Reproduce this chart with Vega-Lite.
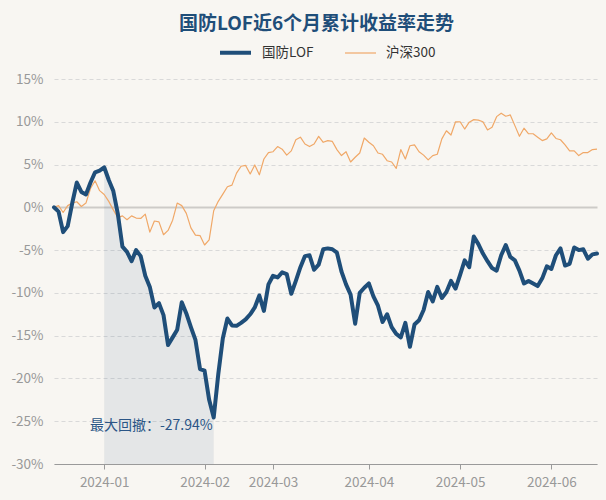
{
  "$schema": "https://vega.github.io/schema/vega-lite/v6.json",
  "width": 543,
  "height": 385,
  "autosize": {"type": "none"},
  "padding": {"left": 54, "top": 79, "right": 9, "bottom": 36},
  "background": "#f8f6f2",
  "title": {
    "text": "国防LOF近6个月累计收益率走势",
    "font": "Noto Sans CJK SC",
    "fontSize": 19,
    "fontWeight": "bold",
    "color": "#1f4e79",
    "anchor": "middle",
    "dx": -9,
    "offset": 1
  },
  "config": {
    "view": {"stroke": null},
    "font": "Noto Sans CJK SC"
  },
  "data": {
    "values": [
      {"d": "2023-12-15", "国防LOF": 0, "沪深300": 0},
      {"d": "2023-12-18", "国防LOF": -0.5, "沪深300": 0.2},
      {"d": "2023-12-19", "国防LOF": -2.9, "沪深300": -0.6},
      {"d": "2023-12-20", "国防LOF": -2.2, "沪深300": 0.2},
      {"d": "2023-12-21", "国防LOF": 0.5, "沪深300": 0.5},
      {"d": "2023-12-22", "国防LOF": 2.9, "沪深300": 0.65},
      {"d": "2023-12-25", "国防LOF": 1.8, "沪深300": 0.1},
      {"d": "2023-12-26", "国防LOF": 1.5, "沪深300": 0.5},
      {"d": "2023-12-27", "国防LOF": 2.9, "沪深300": 2.2},
      {"d": "2023-12-28", "国防LOF": 4.1, "沪深300": 3.1},
      {"d": "2023-12-29", "国防LOF": 4.3, "沪深300": 1.95},
      {"d": "2024-01-02", "国防LOF": 4.68, "沪深300": 1.5},
      {"d": "2024-01-03", "国防LOF": 3.2, "沪深300": 0.7},
      {"d": "2024-01-04", "国防LOF": 1.9, "沪深300": -0.3},
      {"d": "2024-01-05", "国防LOF": -0.8, "沪深300": -1.2},
      {"d": "2024-01-08", "国防LOF": -4.6, "沪深300": -1.0},
      {"d": "2024-01-09", "国防LOF": -5.2, "沪深300": -1.45},
      {"d": "2024-01-10", "国防LOF": -6.3, "沪深300": -1.0},
      {"d": "2024-01-11", "国防LOF": -5.0, "沪深300": -1.25},
      {"d": "2024-01-12", "国防LOF": -5.7, "沪深300": -1.3},
      {"d": "2024-01-15", "国防LOF": -8.0, "沪深300": -0.8},
      {"d": "2024-01-16", "国防LOF": -9.3, "沪深300": -2.9},
      {"d": "2024-01-17", "国防LOF": -11.7, "沪深300": -1.6},
      {"d": "2024-01-18", "国防LOF": -11.2, "沪深300": -1.7},
      {"d": "2024-01-19", "国防LOF": -12.6, "沪深300": -3.2},
      {"d": "2024-01-22", "国防LOF": -16.1, "沪深300": -2.7},
      {"d": "2024-01-23", "国防LOF": -15.2, "沪深300": -1.5},
      {"d": "2024-01-24", "国防LOF": -14.3, "沪深300": 0.5},
      {"d": "2024-01-25", "国防LOF": -11.1, "沪深300": 0.2},
      {"d": "2024-01-26", "国防LOF": -12.4, "沪深300": -0.7},
      {"d": "2024-01-29", "国防LOF": -14.0, "沪深300": -2.4},
      {"d": "2024-01-30", "国防LOF": -15.5, "沪深300": -3.25},
      {"d": "2024-01-31", "国防LOF": -18.9, "沪深300": -3.3},
      {"d": "2024-02-01", "国防LOF": -19.1, "沪深300": -4.4},
      {"d": "2024-02-02", "国防LOF": -22.5, "沪深300": -3.8},
      {"d": "2024-02-05", "国防LOF": -24.57, "沪深300": -0.4},
      {"d": "2024-02-06", "国防LOF": -19.5, "沪深300": 0.7},
      {"d": "2024-02-07", "国防LOF": -15.3, "沪深300": 1.55},
      {"d": "2024-02-08", "国防LOF": -13.0, "沪深300": 2.4},
      {"d": "2024-02-19", "国防LOF": -13.8, "沪深300": 2.6},
      {"d": "2024-02-20", "国防LOF": -13.85, "沪深300": 4.0},
      {"d": "2024-02-21", "国防LOF": -13.5, "沪深300": 4.8},
      {"d": "2024-02-22", "国防LOF": -13.1, "沪深300": 4.9},
      {"d": "2024-02-23", "国防LOF": -12.5, "沪深300": 3.9},
      {"d": "2024-02-26", "国防LOF": -11.7, "沪深300": 4.95},
      {"d": "2024-02-27", "国防LOF": -10.3, "沪深300": 3.8},
      {"d": "2024-02-28", "国防LOF": -12.1, "沪深300": 5.65},
      {"d": "2024-02-29", "国防LOF": -9.0, "沪深300": 6.4},
      {"d": "2024-03-01", "国防LOF": -8.0, "沪深300": 6.5},
      {"d": "2024-03-04", "国防LOF": -8.2, "沪深300": 7.1},
      {"d": "2024-03-05", "国防LOF": -7.6, "沪深300": 6.8},
      {"d": "2024-03-06", "国防LOF": -7.8, "沪深300": 6.1},
      {"d": "2024-03-07", "国防LOF": -10.1, "沪深300": 6.6},
      {"d": "2024-03-08", "国防LOF": -8.6, "沪深300": 7.9},
      {"d": "2024-03-11", "国防LOF": -7.0, "沪深300": 8.2},
      {"d": "2024-03-12", "国防LOF": -5.7, "沪深300": 7.4},
      {"d": "2024-03-13", "国防LOF": -5.6, "沪深300": 7.1},
      {"d": "2024-03-14", "国防LOF": -7.3, "沪深300": 7.4},
      {"d": "2024-03-15", "国防LOF": -6.7, "沪深300": 8.3},
      {"d": "2024-03-18", "国防LOF": -4.9, "沪深300": 7.6},
      {"d": "2024-03-19", "国防LOF": -4.8, "沪深300": 7.8},
      {"d": "2024-03-20", "国防LOF": -4.9, "沪深300": 7.7},
      {"d": "2024-03-21", "国防LOF": -5.3, "沪深300": 6.75},
      {"d": "2024-03-22", "国防LOF": -7.5, "沪深300": 6.05},
      {"d": "2024-03-25", "国防LOF": -9.0, "沪深300": 6.5},
      {"d": "2024-03-26", "国防LOF": -10.2, "沪深300": 5.3},
      {"d": "2024-03-27", "国防LOF": -13.6, "沪深300": 5.85},
      {"d": "2024-03-28", "国防LOF": -10.0, "沪深300": 6.35},
      {"d": "2024-03-29", "国防LOF": -9.4, "沪深300": 8.1},
      {"d": "2024-04-01", "国防LOF": -8.9, "沪深300": 7.6},
      {"d": "2024-04-02", "国防LOF": -10.4, "沪深300": 7.2},
      {"d": "2024-04-03", "国防LOF": -11.5, "沪深300": 6.35},
      {"d": "2024-04-08", "国防LOF": -13.4, "沪深300": 6.2},
      {"d": "2024-04-09", "国防LOF": -12.5, "沪深300": 5.45},
      {"d": "2024-04-10", "国防LOF": -14.0, "沪深300": 5.3},
      {"d": "2024-04-11", "国防LOF": -14.8, "沪深300": 4.55},
      {"d": "2024-04-12", "国防LOF": -15.2, "沪深300": 6.75},
      {"d": "2024-04-15", "国防LOF": -13.5, "沪深300": 5.65},
      {"d": "2024-04-16", "国防LOF": -16.3, "沪深300": 7.2},
      {"d": "2024-04-17", "国防LOF": -13.7, "沪深300": 7.3},
      {"d": "2024-04-18", "国防LOF": -13.2, "沪深300": 6.5},
      {"d": "2024-04-19", "国防LOF": -12.0, "沪深300": 6.1},
      {"d": "2024-04-22", "国防LOF": -9.9, "沪深300": 5.55},
      {"d": "2024-04-23", "国防LOF": -11.0, "沪深300": 6.05},
      {"d": "2024-04-24", "国防LOF": -9.3, "沪深300": 6.2},
      {"d": "2024-04-25", "国防LOF": -10.6, "沪深300": 8.0},
      {"d": "2024-04-26", "国防LOF": -9.9, "沪深300": 8.95},
      {"d": "2024-04-29", "国防LOF": -8.6, "沪深300": 8.45},
      {"d": "2024-04-30", "国防LOF": -9.5, "沪深300": 10.0},
      {"d": "2024-05-06", "国防LOF": -7.9, "沪深300": 10.0},
      {"d": "2024-05-07", "国防LOF": -6.2, "沪深300": 9.15},
      {"d": "2024-05-08", "国防LOF": -7.0, "沪深300": 9.95},
      {"d": "2024-05-09", "国防LOF": -3.4, "沪深300": 10.25},
      {"d": "2024-05-10", "国防LOF": -4.3, "沪深300": 10.2},
      {"d": "2024-05-13", "国防LOF": -5.4, "沪深300": 10.0},
      {"d": "2024-05-14", "国防LOF": -6.3, "沪深300": 9.05},
      {"d": "2024-05-15", "国防LOF": -7.1, "沪深300": 9.35},
      {"d": "2024-05-16", "国防LOF": -7.4, "沪深300": 10.6},
      {"d": "2024-05-17", "国防LOF": -5.6, "沪深300": 11.0},
      {"d": "2024-05-20", "国防LOF": -4.4, "沪深300": 10.65},
      {"d": "2024-05-21", "国防LOF": -5.8, "沪深300": 10.8},
      {"d": "2024-05-22", "国防LOF": -6.2, "沪深300": 9.55},
      {"d": "2024-05-23", "国防LOF": -7.4, "沪深300": 8.3},
      {"d": "2024-05-24", "国防LOF": -8.9, "沪深300": 9.25},
      {"d": "2024-05-27", "国防LOF": -8.6, "沪深300": 8.6},
      {"d": "2024-05-28", "国防LOF": -8.9, "沪深300": 8.6},
      {"d": "2024-05-29", "国防LOF": -9.2, "沪深300": 8.2},
      {"d": "2024-05-30", "国防LOF": -8.3, "沪深300": 7.8},
      {"d": "2024-05-31", "国防LOF": -6.9, "沪深300": 8.0},
      {"d": "2024-06-03", "国防LOF": -7.2, "沪深300": 8.7},
      {"d": "2024-06-04", "国防LOF": -5.6, "沪深300": 8.05},
      {"d": "2024-06-05", "国防LOF": -4.8, "沪深300": 7.9},
      {"d": "2024-06-06", "国防LOF": -6.8, "沪深300": 7.3},
      {"d": "2024-06-07", "国防LOF": -6.6, "沪深300": 6.6},
      {"d": "2024-06-11", "国防LOF": -4.7, "沪深300": 6.6},
      {"d": "2024-06-12", "国防LOF": -5.0, "沪深300": 6.05},
      {"d": "2024-06-13", "国防LOF": -4.9, "沪深300": 6.4},
      {"d": "2024-06-14", "国防LOF": -6.0, "沪深300": 6.4},
      {"d": "2024-06-17", "国防LOF": -5.5, "沪深300": 6.75},
      {"d": "2024-06-18", "国防LOF": -5.4, "沪深300": 6.8}
    ]
  },
  "transform": [{"fold": ["国防LOF", "沪深300"], "as": ["series", "value"]}],
  "encoding": {
    "x": {
      "field": "d",
      "type": "ordinal",
      "title": null,
      "scale": {"type": "point", "padding": 0},
      "axis": {
        "values": ["2024-01-02", "2024-02-01", "2024-03-01", "2024-04-01", "2024-05-06", "2024-06-03"],
        "labelExpr": "substring(datum.value, 0, 7)",
        "labelAngle": 0,
        "labelFont": "Noto Sans CJK SC",
        "labelFontSize": 13.5,
        "labelColor": "#999999",
        "labelPadding": 6,
        "domainColor": "#9a9a9a",
        "tickColor": "#9a9a9a",
        "tickSize": 5,
        "grid": false
      }
    },
    "y": {
      "field": "value",
      "type": "quantitative",
      "title": null,
      "scale": {"domain": [-30, 15], "nice": false, "zero": false},
      "axis": {
        "values": [-30, -25, -20, -15, -10, -5, 0, 5, 10, 15],
        "labelExpr": "datum.value + '%'",
        "labelFont": "Noto Sans CJK SC",
        "labelFontSize": 13.5,
        "labelColor": "#999999",
        "labelPadding": 11,
        "domain": false,
        "ticks": false,
        "grid": true,
        "gridColor": {"condition": {"test": "datum.value === 0", "value": "#cdcbc8"}, "value": "#d9d9d9"},
        "gridDash": {"condition": {"test": "datum.value === 0", "value": []}, "value": [4, 3]},
        "gridWidth": {"condition": {"test": "datum.value === 0", "value": 2}, "value": 1}
      }
    }
  },
  "layer": [
    {
      "transform": [{"filter": "datum.series === '国防LOF' && datum.d >= '2024-01-02' && datum.d <= '2024-02-05'"}],
      "mark": {"type": "area", "color": "#1f4e79", "opacity": 0.09},
      "encoding": {"y2": {"datum": -30}}
    },
    {
      "transform": [{"filter": "datum.series === '沪深300'"}],
      "mark": {"type": "line", "strokeJoin": "round"},
      "encoding": {
        "color": {
          "field": "series", "type": "nominal",
          "scale": {"domain": ["国防LOF", "沪深300"], "range": ["#1f4e79", "#f0a868"]},
          "legend": {"orient": "none", "legendX": 164, "legendY": -44, "direction": "horizontal", "title": null, "symbolType": "stroke", "symbolSize": 961, "labelFont": "Noto Sans CJK SC", "labelFontSize": 13.5, "labelColor": "#333333", "labelOffset": 9, "columnPadding": 28}
        },
        "strokeWidth": {
          "field": "series", "type": "nominal",
          "scale": {"domain": ["国防LOF", "沪深300"], "range": [4, 1.2]},
          "legend": {"orient": "none", "legendX": 164, "legendY": -44, "direction": "horizontal", "title": null, "symbolType": "stroke", "symbolSize": 961, "labelFont": "Noto Sans CJK SC", "labelFontSize": 13.5, "labelColor": "#333333", "labelOffset": 9, "columnPadding": 28}
        }
      }
    },
    {
      "transform": [{"filter": "datum.series === '国防LOF'"}],
      "mark": {"type": "line", "strokeJoin": "round", "strokeCap": "round"},
      "encoding": {
        "color": {"field": "series", "type": "nominal"},
        "strokeWidth": {"field": "series", "type": "nominal"}
      }
    },
    {
      "transform": [{"filter": "datum.series === '国防LOF' && datum.d === '2024-02-05'"}],
      "mark": {"type": "text", "align": "right", "baseline": "middle", "dx": -1, "dy": 8, "font": "Noto Sans CJK SC", "fontSize": 14, "color": "#2a5586"},
      "encoding": {"text": {"value": "最大回撤：-27.94%"}}
    }
  ]
}
